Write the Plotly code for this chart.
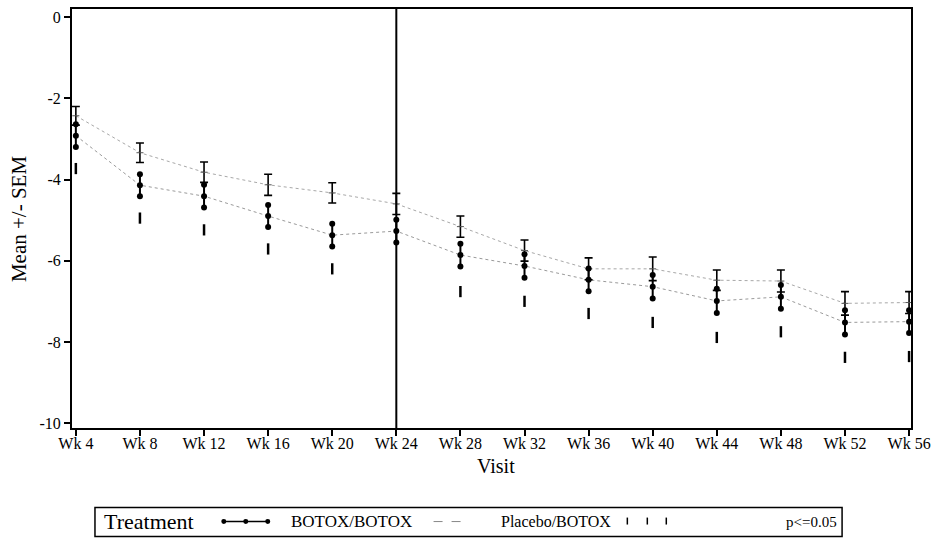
import plotly.graph_objects as go

# Visits and summary statistics (change from baseline)
visits = ["Wk 4", "Wk 8", "Wk 12", "Wk 16", "Wk 20", "Wk 24", "Wk 28",
          "Wk 32", "Wk 36", "Wk 40", "Wk 44", "Wk 48", "Wk 52", "Wk 56"]
botox_mean = [-2.92, -4.14, -4.41, -4.90, -5.37, -5.27, -5.86,
              -6.13, -6.47, -6.64, -6.99, -6.89, -7.52, -7.50]
botox_sem = [0.28, 0.27, 0.28, 0.27, 0.28, 0.28, 0.28,
             0.29, 0.28, 0.29, 0.30, 0.29, 0.30, 0.28]
placebo_mean = [-2.43, -3.34, -3.82, -4.13, -4.33, -4.60, -5.16,
                -5.75, -6.20, -6.20, -6.48, -6.50, -7.05, -7.03]
placebo_sem = [0.23, 0.24, 0.25, 0.26, 0.25, 0.26, 0.26,
               0.26, 0.27, 0.29, 0.25, 0.27, 0.29, 0.27]
# Position of the p<=0.05 flag at each visit (None = not flagged)
p_flag = [-3.73, -4.95, -5.24, -5.71, -6.20, None, -6.76,
          -7.00, -7.30, -7.52, -7.89, -7.75, -8.38, -8.36]
y_ticks = [0, -2, -4, -6, -8, -10]

xs = list(range(len(visits)))
SERIF = "Liberation Serif"

W, H = 938, 546
ML, MR, MT, MB = 72, 26, 7, 118
PW, PH = W - ML - MR, H - MT - MB


def px(x):
    return (x - ML) / PW


def py(y):
    return (H - MB - y) / PH


fig = go.Figure()

# dotted connecting lines through the means
fig.add_trace(go.Scatter(x=xs, y=botox_mean, mode="lines",
                         line=dict(color="#9a9a9a", width=1, dash="dot"),
                         hoverinfo="skip"))
fig.add_trace(go.Scatter(x=xs, y=placebo_mean, mode="lines",
                         line=dict(color="#a8a8a8", width=1, dash="dot"),
                         hoverinfo="skip"))

# Placebo/BOTOX: capped SEM bars
fig.add_trace(go.Scatter(
    x=xs, y=placebo_mean, mode="markers",
    marker=dict(symbol="line-ew", size=5, color="black",
                line=dict(color="#555", width=1)),
    error_y=dict(type="data", array=placebo_sem, visible=True,
                 color="black", thickness=1.6, width=4),
    name="Placebo/BOTOX"))

# BOTOX/BOTOX: dots at mean and at mean +/- SEM joined by a solid bar
fig.add_trace(go.Scatter(
    x=xs, y=botox_mean, mode="markers",
    marker=dict(symbol="circle", size=6, color="black"),
    error_y=dict(type="data", array=botox_sem, visible=True,
                 color="black", thickness=2, width=0),
    name="BOTOX/BOTOX"))
fig.add_trace(go.Scatter(
    x=xs + xs,
    y=[m + s for m, s in zip(botox_mean, botox_sem)] +
      [m - s for m, s in zip(botox_mean, botox_sem)],
    mode="markers", marker=dict(symbol="circle", size=6, color="black"),
    hoverinfo="skip"))

# significance flags
fig.add_trace(go.Scatter(
    x=xs, y=p_flag, mode="markers",
    marker=dict(symbol="line-ns", size=8, color="black",
                line=dict(color="black", width=2.5)),
    name="p<=0.05"))

shapes = []
# reference line at Week 24
shapes.append(dict(type="line", xref="x", yref="paper", x0=5, x1=5, y0=0, y1=1,
                   line=dict(color="black", width=2)))

# legend frame and samples
LY = 522
shapes.append(dict(type="rect", xref="paper", yref="paper",
                   x0=px(95), x1=px(843), y0=py(508), y1=py(537),
                   line=dict(color="black", width=1.5)))
ly = py(LY)
shapes.append(dict(type="line", xref="paper", yref="paper",
                   x0=px(224), x1=px(268), y0=ly, y1=ly,
                   line=dict(color="black", width=1.5)))
for cx in (224, 246, 268):
    shapes.append(dict(type="circle", xref="paper", yref="paper",
                       x0=px(cx - 2.5), x1=px(cx + 2.5),
                       y0=py(LY + 2.5), y1=py(LY - 2.5),
                       fillcolor="black", line=dict(color="black", width=0)))
shapes.append(dict(type="line", xref="paper", yref="paper",
                   x0=px(434), x1=px(470), y0=ly, y1=ly,
                   line=dict(color="#888", width=1, dash="dash")))
for cx in (628, 648, 667):
    shapes.append(dict(type="line", xref="paper", yref="paper",
                       x0=px(cx), x1=px(cx), y0=py(LY - 4), y1=py(LY + 3),
                       line=dict(color="black", width=1.5)))


def label(text, x, y, size, xanchor="center", angle=0):
    return dict(text=text, xref="paper", yref="paper", x=px(x), y=py(y),
                xanchor=xanchor, yanchor="middle", textangle=angle,
                showarrow=False, font=dict(family=SERIF, size=size, color="black"))


annotations = [
    label("Mean +/- SEM", 19, 218, 21, angle=-90),
    label("Visit", 497, 466, 20),
    label("Treatment", 102, LY, 22, xanchor="left"),
    label("BOTOX/BOTOX", 289, LY, 17, xanchor="left"),
    label("Placebo/BOTOX", 500, LY, 16, xanchor="left"),
    label("p<=0.05", 840, LY, 15, xanchor="right"),
]

fig.update_layout(
    width=W, height=H,
    margin=dict(l=ML, r=MR, t=MT, b=MB, pad=0),
    paper_bgcolor="white", plot_bgcolor="white",
    showlegend=False,
    shapes=shapes, annotations=annotations,
    font=dict(family=SERIF, color="black"),
    xaxis=dict(range=[-0.06, 13.03], tickmode="array", tickvals=xs, ticktext=visits,
               ticks="outside", ticklen=6, tickwidth=1.5, tickcolor="black",
               ticklabelstandoff=-6,
               showline=True, linecolor="black", linewidth=2, mirror=True,
               showgrid=False, zeroline=False,
               tickfont=dict(family=SERIF, size=16, color="black")),
    yaxis=dict(range=[-10.12, 0.2], tickmode="array", tickvals=y_ticks,
               ticktext=[str(v) for v in y_ticks],
               ticks="outside", ticklen=6, tickwidth=1.5, tickcolor="black",
               showline=True, linecolor="black", linewidth=2, mirror=True,
               showgrid=False, zeroline=False,
               tickfont=dict(family=SERIF, size=16, color="black")),
)

fig.write_html("out.html")
